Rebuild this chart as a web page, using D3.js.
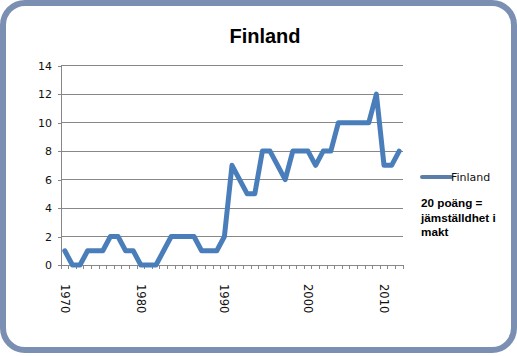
<!DOCTYPE html>
<html>
<head>
<meta charset="utf-8">
<script src="https://cdn.jsdelivr.net/npm/d3@7"></script>
<style>
  html, body { margin: 0; padding: 0; background: #fff; }
  svg { display: block; }
</style>
</head>
<body>
<svg id="chart" width="517" height="356"></svg>
<script>
// ---- data ----
const title = "Finland";
const seriesName = "Finland";
const years = [
  1970,1971,1972,1973,1974,1975,1976,1977,1978,1979,
  1980,1981,1982,1983,1983,1984,1985,1986,1987,1988,
  1989,1990,1991,1992,1993,1994,1995,1995,1996,1997,
  1998,1999,2000,2001,2002,2003,2004,2005,2006,2007,
  2008,2009,2010,2011,2012
];
const values = [
  1,0,0,1,1,1,2,2,1,1,
  0,0,0,1,2,2,2,2,1,1,
  1,2,7,6,5,5,8,8,7,6,
  8,8,8,7,8,8,10,10,10,10,
  10,12,7,7,8
];
const xTickLabels = ["1970","1980","1990","2000","2010"];
const yTicks = [0,2,4,6,8,10,12,14];
const noteLines = ["20 poäng =", "jämställdhet i", "makt"];

// ---- drawing ----
const svg = d3.select("#chart");
const lineColor = "#4a7ebb";

svg.append("rect")
  .attr("x", 3).attr("y", 3).attr("width", 511).attr("height", 347)
  .attr("rx", 22).attr("ry", 22)
  .attr("fill", "#fff").attr("stroke", "#7b8fb3").attr("stroke-width", 6);

svg.append("text")
  .attr("x", 265).attr("y", 43)
  .attr("text-anchor", "middle")
  .attr("font-family", "Liberation Sans, Arial, sans-serif")
  .attr("font-weight", "bold").attr("font-size", 20)
  .attr("fill", "#000")
  .text(title);

const plot = { left: 61, right: 403, top: 65.7, bottom: 265 };

const x = d3.scaleBand()
  .domain(d3.range(values.length))
  .range([plot.left, plot.right])
  .paddingInner(0).paddingOuter(0);
const xc = i => x(i) + x.bandwidth() / 2;

const y = d3.scaleLinear().domain([0, 14]).range([plot.bottom, plot.top]);

// gridlines
svg.append("g")
  .selectAll("line").data(yTicks.filter(t => t > 0)).join("line")
  .attr("x1", plot.left).attr("x2", plot.right)
  .attr("y1", d => y(d)).attr("y2", d => y(d))
  .attr("stroke", "#878787").attr("stroke-width", 1)
  .attr("shape-rendering", "crispEdges");

// y axis
const yAxis = d3.axisLeft(y).tickValues(yTicks).tickSize(3).tickPadding(6);
const yg = svg.append("g").attr("transform", `translate(${plot.left},0)`).call(yAxis);
yg.select(".domain").attr("stroke", "#878787").attr("shape-rendering", "crispEdges");
yg.selectAll(".tick line").attr("stroke", "#878787").attr("shape-rendering", "crispEdges");
yg.selectAll("text")
  .attr("font-family", "DejaVu Sans, Verdana, sans-serif")
  .attr("font-size", 11).attr("fill", "#111");

// x axis line + category tick marks
const xg = svg.append("g");
xg.append("line")
  .attr("x1", plot.left).attr("x2", plot.right)
  .attr("y1", plot.bottom).attr("y2", plot.bottom)
  .attr("stroke", "#878787").attr("shape-rendering", "crispEdges");
const boundaries = d3.range(values.length + 1).map(i => i < values.length ? x(i) : plot.right);
xg.selectAll("line.tk").data(boundaries).join("line").attr("class", "tk")
  .attr("x1", d => d).attr("x2", d => d)
  .attr("y1", plot.bottom).attr("y2", plot.bottom + 4)
  .attr("stroke", "#878787").attr("shape-rendering", "crispEdges");

// x labels: first category index for each label year
const labelIdx = xTickLabels.map(l => years.indexOf(+l));
xg.selectAll("text").data(xTickLabels).join("text")
  .attr("transform", (d, k) => `translate(${xc(labelIdx[k])},${plot.bottom + 19}) rotate(90)`)
  .attr("dy", "0.35em")
  .attr("text-anchor", "start")
  .attr("font-family", "DejaVu Sans, Verdana, sans-serif")
  .attr("font-size", 11.5).attr("fill", "#111")
  .text(d => d);

// series line
const line = d3.line().x((d, i) => xc(i)).y(d => y(d));
svg.append("path")
  .datum(values)
  .attr("d", line)
  .attr("fill", "none")
  .attr("stroke", lineColor)
  .attr("stroke-width", 5)
  .attr("stroke-linejoin", "round")
  .attr("stroke-linecap", "round");

// legend
const lg = svg.append("g");
lg.append("line")
  .attr("x1", 422).attr("x2", 451).attr("y1", 177).attr("y2", 177)
  .attr("stroke", "#5b7ea8").attr("stroke-width", 4).attr("stroke-linecap", "round");
lg.append("text")
  .attr("x", 451).attr("y", 177).attr("dy", "0.35em")
  .attr("font-family", "DejaVu Sans, Verdana, sans-serif")
  .attr("font-size", 11).attr("fill", "#111")
  .text(seriesName);

// note
lg.selectAll("text.note").data(noteLines).join("text").attr("class", "note")
  .attr("x", 421).attr("y", (d, i) => 207 + i * 14.5)
  .attr("font-family", "Liberation Sans, Arial, sans-serif")
  .attr("font-weight", "bold").attr("font-size", 11.7).attr("fill", "#000")
  .text(d => d);
</script>
</body>
</html>
